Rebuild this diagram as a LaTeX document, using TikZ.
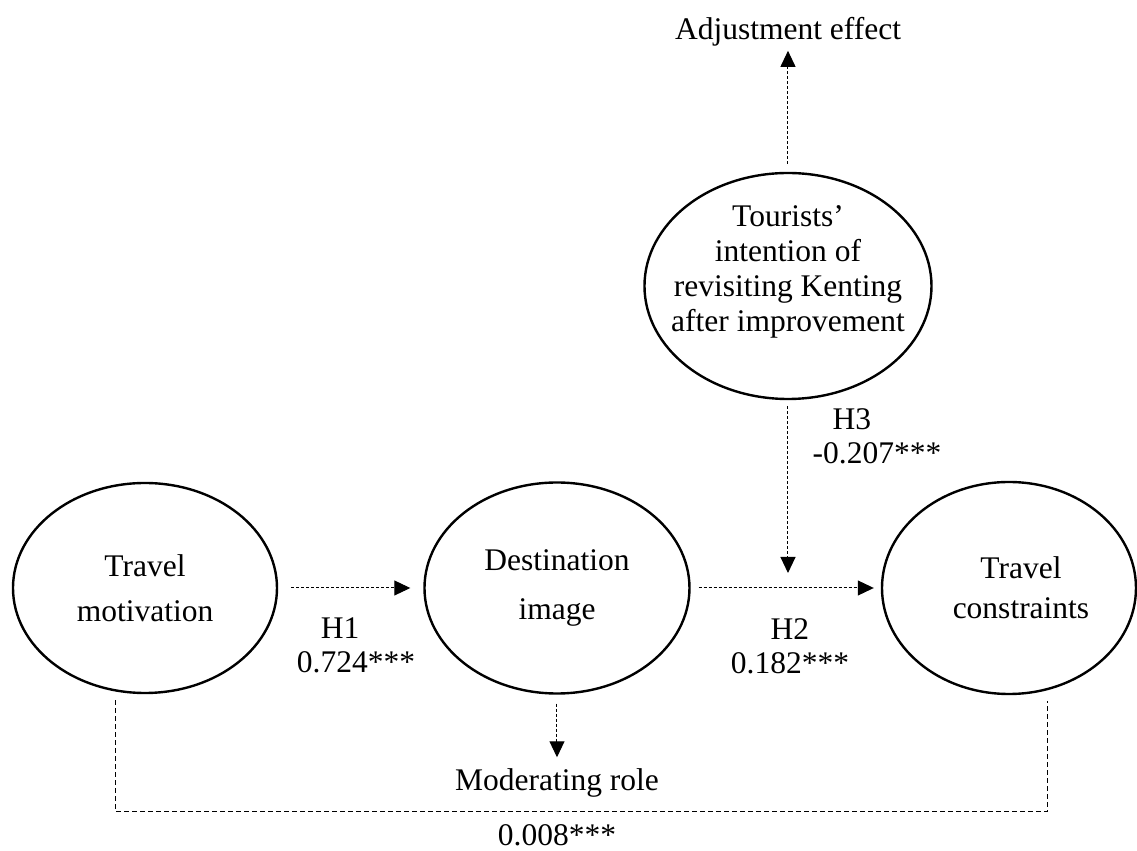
\documentclass[tikz,border=0pt]{standalone}
\usepackage{fontspec}
\setmainfont{Liberation Serif}
\usetikzlibrary{positioning, arrows.meta, shapes.geometric}

\begin{document}
\begin{tikzpicture}[
	every construct/.style={ellipse, draw, line width=1.2pt, inner xsep=-10pt, inner ysep=-4pt, minimum width=132pt, minimum height=105pt, align=center, font=\fontsize{15.75}{23}\selectfont},
	effect label/.style={inner sep=0pt, font=\fontsize{15.75}{17}\selectfont},
	effect path/.style={line width=0.5pt, dash pattern=on 1.5pt off 1pt},
	total path/.style={line width=0.5pt, dash pattern=on 2.5pt off 1.5pt},
	on grid,
	>={Triangle[length=8pt, width=7.5pt]}
]

\useasboundingbox (-278.5pt,-131.5pt) rectangle (290pt,294pt);

\node[every construct, minimum width=132.5pt, minimum height=105.5pt, font=\fontsize{15.75}{24.5}\selectfont] (dest) {Destination\\image};
\node[every construct, left=206pt of dest, font=\fontsize{15.75}{22.5}\selectfont] (motiv) {Travel\\motivation};
\node[every construct, right=226pt of dest, minimum width=127pt, minimum height=106pt, font=\fontsize{15.75}{20}\selectfont] (constr) {\hspace*{12pt}Travel\\\hspace*{12pt}constraints};
\node[every construct, above right=151pt and 115.5pt of dest, minimum width=143.5pt, minimum height=113pt, font=\fontsize{15.75}{17.5}\selectfont] (revisit) {Tourists'\\intention of\\revisiting Kenting\\after improvement\\~};

\node[effect label, above=127pt of revisit] (adj) {Adjustment effect};
\node[effect label, below=97.5pt of dest] (mod) {Moderating role};
\node[effect label, below=123.5pt of dest] (total) {0.008***};

\node[effect label, align=left, below left=28.5pt and 100.5pt of dest] (h1) {\hspace{12pt}H1\\0.724***};
\node[effect label, align=center, below right=29pt and 116.5pt of dest] (h2) {H2\hspace{10pt}\\0.182***};
\node[effect label, align=left, above right=76pt and 160pt of dest] (h3) {\hspace{10pt}H3\\-0.207***};

\coordinate[above=7.5pt of dest] (h3end);
\coordinate[below=112pt of dest] (dline);

\draw[effect path, ->, shorten <=6.5pt, shorten >=6.5pt] (motiv) -- (dest);
\draw[effect path, ->, shorten <=4pt, shorten >=3.5pt] (dest) -- (constr);
\draw[effect path, ->, shorten <=3pt] (revisit.south) -- (revisit.south |- h3end);
\draw[effect path, ->, shorten <=4pt, shorten >=2pt] (revisit.north) -- (revisit.north |- adj.south);
\draw[effect path, ->, shorten <=4.5pt, shorten >=5.5pt] (dest.south) -- (mod.north);

\draw[total path] ([shift={(-14.5pt,-3pt)}]motiv.south) |- (dline) -| ([shift={(19pt,-3pt)}]constr.south);

\end{tikzpicture}
\end{document}
